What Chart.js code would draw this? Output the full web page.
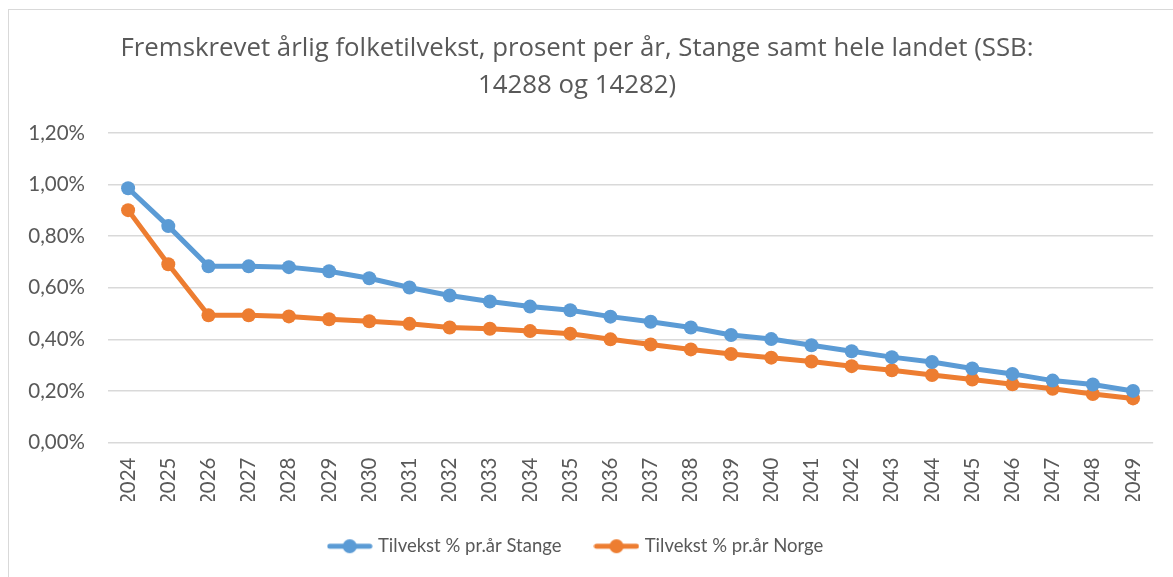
<!DOCTYPE html>
<html>
<head>
<meta charset="utf-8">
<script src="https://cdn.jsdelivr.net/npm/chart.js@4/dist/chart.umd.min.js"></script>
<style>
  body { margin: 0; background: #fff; }
  #wrap { position: relative; width: 1173px; height: 577px; }
  #ramme { position: absolute; left: 8px; top: 9px; width: 1170px; height: 575px;
           border: 1px solid #d9d9d9; pointer-events: none; }
</style>
</head>
<body>
<div id="wrap">
  <canvas id="graf" width="1173" height="577"></canvas>
  <div id="ramme"></div>
</div>
<script>
// år og fremskrevet vekst (prosent per år)
var aar = ['2024', '2025', '2026', '2027', '2028', '2029', '2030', '2031', '2032', '2033', '2034', '2035', '2036',
           '2037', '2038', '2039', '2040', '2041', '2042', '2043', '2044', '2045', '2046', '2047', '2048', '2049'];
var stange = [0.986, 0.839, 0.683, 0.683, 0.680, 0.664, 0.637, 0.601, 0.570, 0.547, 0.527, 0.513, 0.488,
              0.468, 0.446, 0.417, 0.401, 0.377, 0.354, 0.331, 0.312, 0.287, 0.266, 0.240, 0.225, 0.200];
var norge = [0.901, 0.691, 0.493, 0.493, 0.489, 0.478, 0.470, 0.460, 0.446, 0.441, 0.432, 0.422, 0.400,
             0.380, 0.361, 0.343, 0.329, 0.314, 0.296, 0.280, 0.262, 0.244, 0.226, 0.208, 0.188, 0.171];
var yTickLabels = ['0,00%', '0,20%', '0,40%', '0,60%', '0,80%', '1,00%', '1,20%'];

var blaa = '#5b9bd5';
var oransje = '#ed7d31';
var tekstfarge = '#595959';
var font = 'Lato';

// liten strek med markør, som i Excel-forklaringen
function legendSymbol(farge) {
    var c = document.createElement('canvas');
    c.width = 46;
    c.height = 16;
    var ctx = c.getContext('2d');
    ctx.strokeStyle = farge;
    ctx.lineWidth = 5;
    ctx.lineCap = 'round';
    ctx.beginPath();
    ctx.moveTo(3, 8);
    ctx.lineTo(43, 8);
    ctx.stroke();
    ctx.fillStyle = farge;
    ctx.beginPath();
    ctx.arc(23, 8, 7, 0, Math.PI * 2);
    ctx.fill();
    return c;
}
var symboler = [legendSymbol(blaa), legendSymbol(oransje)];

function serie(navn, data, farge) {
    return {
        label: navn,
        data: data,
        borderColor: farge,
        backgroundColor: farge,
        borderWidth: 5,
        pointRadius: 7,
        pointHoverRadius: 7,
        pointBorderWidth: 0,
        pointBackgroundColor: farge,
        pointStyle: 'circle',
        tension: 0
    };
}

var chart = new Chart(document.getElementById('graf').getContext('2d'), {
    type: 'line',
    data: {
        labels: aar,
        datasets: [
            serie('Tilvekst % pr.år Stange', stange, blaa),
            serie('Tilvekst % pr.år Norge', norge, oransje)
        ]
    },
    options: {
        responsive: false,
        animation: false,
        layout: { padding: { left: 0, right: 19, top: 0, bottom: 11.5 } },
        plugins: {
            title: {
                display: true,
                text: ['Fremskrevet årlig folketilvekst, prosent per år, Stange samt hele landet (SSB:', '14288 og 14282)'],
                color: tekstfarge,
                font: { family: 'Open Sans', size: 25.8, weight: 'normal', lineHeight: 1.45 },
                padding: { top: 29.5, bottom: 28.7 }
            },
            legend: {
                position: 'bottom',
                labels: {
                    usePointStyle: true,
                    pointStyleWidth: 38,
                    color: tekstfarge,
                    font: { family: font, size: 18.5 },
                    padding: 36,
                    generateLabels: function (c) {
                        var items = Chart.defaults.plugins.legend.labels.generateLabels(c);
                        items.forEach(function (it, i) { it.pointStyle = symboler[i]; });
                        return items;
                    }
                }
            },
            tooltip: { enabled: false }
        },
        scales: {
            x: {
                offset: true,
                grid: { display: false, drawTicks: false },
                border: { display: false },
                ticks: {
                    color: tekstfarge,
                    font: { family: font, size: 20.5 },
                    minRotation: 90,
                    maxRotation: 90,
                    autoSkip: false,
                    padding: 15
                },
                afterFit: function (s) { s.height = 58.5; }
            },
            y: {
                min: 0,
                max: 1.2,
                grid: { color: '#d9d9d9', lineWidth: 1.5, drawTicks: false },
                border: { display: false },
                ticks: {
                    stepSize: 0.2,
                    color: tekstfarge,
                    font: { family: font, size: 20.5 },
                    padding: 23,
                    callback: function (v, i) { return yTickLabels[i]; }
                },
                afterFit: function (s) { s.width = 108; }
            }
        }
    }
});
</script>
</body>
</html>
